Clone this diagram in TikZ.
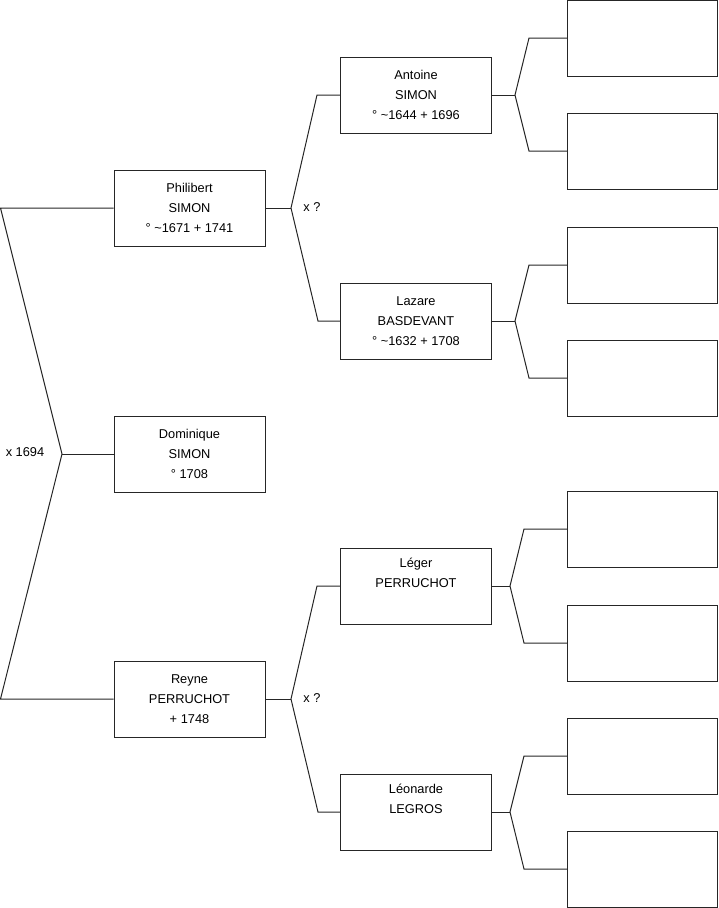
\documentclass[tikz,border=0pt]{standalone}
\usepackage{fontspec}
\setmainfont{Liberation Sans}
\begin{document}
\begin{tikzpicture}[x=1pt,y=-1pt,
  person/.style={draw=black!85, line width=1pt, minimum width=151pt, minimum height=76pt,
    inner sep=0pt, align=center, font=\fontsize{12.8}{20}\selectfont},
  link/.style={draw=black!85, line width=1pt},
  lbl/.style={font=\fontsize{12.8}{15}\selectfont, inner sep=0pt}]
\useasboundingbox (0,0) rectangle (719,908);
% column 1
\node[person] (phil) at (189.5,208) {Philibert\\SIMON\\° \textasciitilde1671 + 1741};
\node[person] (dom) at (189.5,454) {Dominique\\SIMON\\° 1708};
\node[person] (reyne) at (189.5,699) {Reyne\\PERRUCHOT\\+ 1748};
% column 2
\node[person] (ant) at (416,95) {Antoine\\SIMON\\° \textasciitilde1644 + 1696};
\node[person] (laz) at (416,321) {Lazare\\BASDEVANT\\° \textasciitilde1632 + 1708};
\node[person] (leg) at (416,586) {Léger\\PERRUCHOT\\\strut};
\node[person] (leo) at (416,812) {Léonarde\\LEGROS\\\strut};
% column 3
\node[person, minimum width=150pt] (g1) at (642.5,38) {};
\node[person, minimum width=150pt] (g2) at (642.5,151) {};
\node[person, minimum width=150pt] (g3) at (642.5,265) {};
\node[person, minimum width=150pt] (g4) at (642.5,378) {};
\node[person, minimum width=150pt] (g5) at (642.5,529) {};
\node[person, minimum width=150pt] (g6) at (642.5,643) {};
\node[person, minimum width=150pt] (g7) at (642.5,756) {};
\node[person, minimum width=150pt] (g8) at (642.5,869) {};
% fork points
\coordinate (f0) at (62,454);
\coordinate (a0) at (0.5,208);
\coordinate (b0) at (0.5,699);
\coordinate (f1) at (291,208);
\coordinate (f2) at (291,699);
\coordinate (fa) at (515,95);
\coordinate (fl) at (515,321);
\coordinate (fg) at (510,586);
\coordinate (fo) at (510,812);
% connectors
\draw[link] (phil.west) -- (a0) -- (f0) -- (b0) -- (reyne.west);
\draw[link] (f0) -- (dom.west);
\draw[link] (phil.east) -- (f1);
\draw[link] (ant.west) -- ++(-23,0) -- (f1) -- (318,321) -- (laz.west);
\draw[link] (reyne.east) -- (f2);
\draw[link] (leg.west) -- ++(-23,0) -- (f2) -- (318,812) -- (leo.west);
\draw[link] (ant.east) -- (fa);
\draw[link] (g1.west) -- ++(-38,0) -- (fa) -- (529,151) -- (g2.west);
\draw[link] (laz.east) -- (fl);
\draw[link] (g3.west) -- ++(-38,0) -- (fl) -- (529,378) -- (g4.west);
\draw[link] (leg.east) -- (fg);
\draw[link] (g5.west) -- ++(-43,0) -- (fg) -- (524,643) -- (g6.west);
\draw[link] (leo.east) -- (fo);
\draw[link] (g7.west) -- ++(-43,0) -- (fo) -- (524,869) -- (g8.west);
% labels
\node[lbl] (l0) at (25,452) {x 1694};
\node[lbl] (l1) at (312,207) {x ?};
\node[lbl] (l2) at (312,698) {x ?};
\end{tikzpicture}
\end{document}
